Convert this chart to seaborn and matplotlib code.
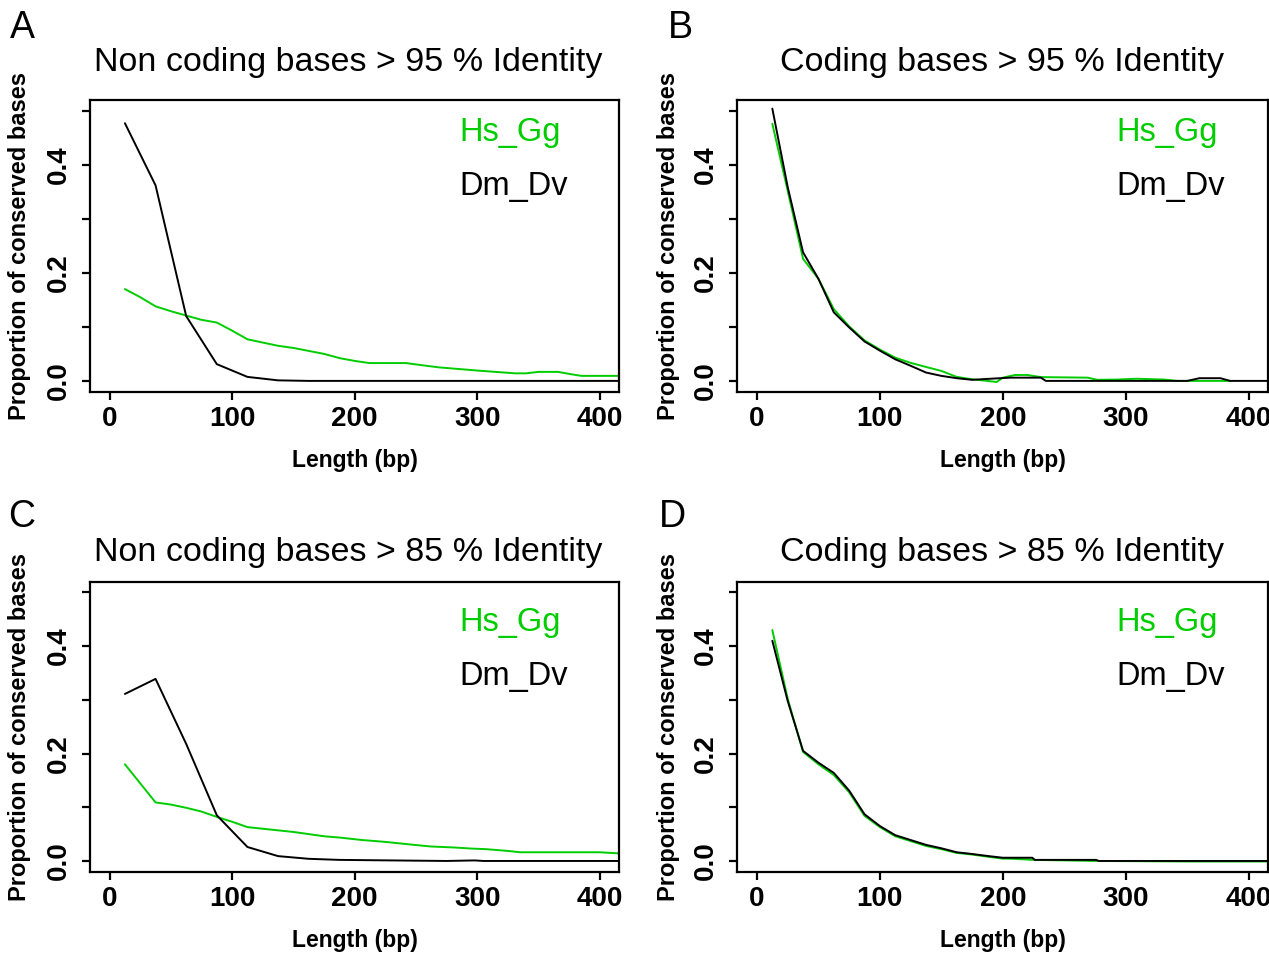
import matplotlib
matplotlib.use("Agg")
import matplotlib.pyplot as plt
import matplotlib.font_manager as fm
import numpy as np
import pandas as pd
import seaborn as sns
from matplotlib.ticker import FixedLocator, FixedFormatter

# ---------------- data ----------------
pairs = ["Hs_Gg", "Dm_Dv"]
titles = ["Non coding bases > 95 % Identity", "Coding bases > 95 % Identity",
          "Non coding bases > 85 % Identity", "Coding bases > 85 % Identity"]
panel_letters = ["A", "B", "C", "D"]

# Panel A
a_dm_len = [12.5, 37.5, 62.5, 87.5, 112.5, 137.5, 162.5, 200, 300, 420]
a_dm = [0.477, 0.362, 0.120, 0.031, 0.0074, 0.001, 0.0, 0.0, 0.0, 0.0]
a_hs_len = [12.5, 25, 37.5, 50, 62.5, 75, 87.5, 100, 112.5, 125, 137.5, 150, 175,
            188, 200, 212, 242, 255, 269, 285, 301, 331, 340, 350, 366, 375, 385, 420]
a_hs = [0.170, 0.155, 0.138, 0.129, 0.121, 0.113, 0.108, 0.093, 0.077, 0.071, 0.065,
        0.061, 0.050, 0.042, 0.037, 0.033, 0.033, 0.029, 0.025, 0.022, 0.019, 0.014,
        0.014, 0.0167, 0.0167, 0.013, 0.0093, 0.0093]

# Panel B
b_dm_len = [12.5, 25, 37.5, 50, 62.5, 75, 87.5, 100, 112.5, 125, 137.5, 150, 162.5,
            175, 190, 206, 231, 235, 350, 360, 377, 385, 420]
b_dm = [0.504, 0.359, 0.238, 0.189, 0.127, 0.099, 0.073, 0.056, 0.040, 0.028, 0.0155,
        0.0093, 0.005, 0.002, 0.004, 0.006, 0.006, 0.0, 0.0, 0.005, 0.005, 0.0, 0.0]
b_hs_len = [12.5, 25, 37.5, 50, 62.5, 75, 87.5, 100, 112.5, 125, 137.5, 150, 162.5,
            175, 187.5, 195, 200, 210, 220, 231, 269, 277, 293, 309, 331, 342, 385]
b_hs = [0.476, 0.352, 0.226, 0.189, 0.133, 0.101, 0.075, 0.058, 0.043, 0.0334, 0.0258,
        0.0185, 0.0074, 0.003, 0.0, -0.002, 0.006, 0.011, 0.011, 0.007, 0.006, 0.002,
        0.0025, 0.004, 0.0025, 0.0, 0.0]

# Panel C
c_dm_len = [12.5, 37.5, 62.5, 87.5, 112.5, 137.5, 162.5, 187.5, 230, 275, 298, 305, 420]
c_dm = [0.311, 0.339, 0.218, 0.085, 0.026, 0.009, 0.004, 0.002, 0.001, 0.0, 0.001, 0.0, 0.0]
c_hs_len = [12.5, 37.5, 50, 62.5, 75, 87.5, 100, 112.5, 125, 137.5, 150, 175, 188, 206,
            225, 244, 262, 282, 296, 307, 325, 335, 400, 414, 420]
c_hs = [0.180, 0.109, 0.105, 0.099, 0.092, 0.082, 0.073, 0.063, 0.060, 0.057, 0.054,
        0.046, 0.0435, 0.039, 0.0355, 0.031, 0.027, 0.025, 0.023, 0.022, 0.0187, 0.0162,
        0.0162, 0.0143, 0.0143]

# Panel D
d_dm_len = [12.5, 25, 37.5, 50, 62.5, 75, 87.5, 100, 112.5, 125, 137.5, 150, 162.5,
            175, 187.5, 200, 224, 226, 276, 278, 420]
d_dm = [0.410, 0.298, 0.205, 0.183, 0.164, 0.131, 0.087, 0.065, 0.048, 0.039, 0.030,
        0.0236, 0.0162, 0.013, 0.0093, 0.006, 0.006, 0.002, 0.002, 0.0, 0.0]
d_hs_len = [12.5, 25, 37.5, 50, 62.5, 75, 87.5, 100, 112.5, 125, 137.5, 150, 162.5,
            175, 187.5, 200, 206, 225, 276, 350, 420]
d_hs = [0.430, 0.302, 0.203, 0.180, 0.160, 0.128, 0.084, 0.063, 0.046, 0.037, 0.028,
        0.022, 0.015, 0.012, 0.008, 0.0043, 0.0043, 0.002, 0.0, -0.001, -0.001]

x_ticks = [0, 100, 200, 300, 400]
y_ticks = [0.0, 0.1, 0.2, 0.3, 0.4, 0.5]
y_ticklabels = ["0.0", "", "0.2", "", "0.4", ""]

GREEN = "#00CD00"

# ---------------- style ----------------
sns.set_style("white")
avail = {f.name for f in fm.fontManager.ttflist}
narrow = "Liberation Sans Narrow" if "Liberation Sans Narrow" in avail else "Liberation Sans"
plt.rcParams["font.family"] = ["Liberation Sans", "DejaVu Sans"]
plt.rcParams["text.color"] = "black"
plt.rcParams["axes.labelcolor"] = "black"
plt.rcParams["xtick.color"] = "black"
plt.rcParams["ytick.color"] = "black"

W, H = 1269, 956
fig = plt.figure(figsize=(W / 100, H / 100), dpi=100)

def frac_box(l, t, r, b):
    return [l / W, 1 - b / H, (r - l) / W, (b - t) / H]

boxes = [frac_box(90, 100, 619.3, 391.7), frac_box(737.3, 100, 1268.3, 391.7),
         frac_box(90, 581.7, 619.3, 871.7), frac_box(737.3, 581.7, 1268.3, 871.7)]

series = [((a_hs_len, a_hs), (a_dm_len, a_dm)),
          ((b_hs_len, b_hs), (b_dm_len, b_dm)),
          ((c_hs_len, c_hs), (c_dm_len, c_dm)),
          ((d_hs_len, d_hs), (d_dm_len, d_dm))]

title_pos = [(348, 63), (1002, 63), (348, 553), (1002, 553)]
letter_pos = [(22, 28), (680, 28), (22, 517), (672, 517)]
legend_x = [459, 1116, 459, 1116]
legend_y = [(133, 187), (133, 187), (622, 676), (622, 676)]
ylabel_x = [20, 668, 20, 668]

for i in range(4):
    ax = fig.add_axes(boxes[i])
    (hx, hy), (dx, dy) = series[i]
    df = pd.concat([
        pd.DataFrame({"length": hx, "prop": hy, "pair": pairs[0]}),
        pd.DataFrame({"length": dx, "prop": dy, "pair": pairs[1]}),
    ], ignore_index=True)
    sns.lineplot(data=df, x="length", y="prop", hue="pair", hue_order=pairs,
                 palette={pairs[0]: GREEN, pairs[1]: "black"}, estimator=None,
                 sort=False, legend=False, lw=1.4, ax=ax)
    ax.set_xlim(-16, 416)
    ax.set_ylim(-0.02, 0.52)
    ax.xaxis.set_major_locator(FixedLocator(x_ticks))
    ax.yaxis.set_major_locator(FixedLocator(y_ticks))
    ax.yaxis.set_major_formatter(FixedFormatter(y_ticklabels))
    ax.set_xticklabels([str(v) for v in x_ticks])
    for s in ax.spines.values():
        s.set_linewidth(1.6)
        s.set_color("black")
    ax.tick_params(axis="both", which="major", direction="out", length=6,
                   width=1.6, color="black", labelcolor="black", bottom=True, left=True)
    ax.tick_params(axis="x", pad=4)
    ax.tick_params(axis="y", pad=7)
    for lab in ax.get_xticklabels():
        lab.set_fontfamily(narrow)
        lab.set_fontweight("bold")
        lab.set_fontsize(20)
    for lab in ax.get_yticklabels():
        lab.set_fontfamily(narrow)
        lab.set_fontweight("bold")
        lab.set_fontsize(20)
        lab.set_rotation(90)
        lab.set_va("center")
    ax.set_xlabel("")
    ax.set_ylabel("")

    # "legend" text
    fig.text(legend_x[i] / W, 1 - legend_y[i][0] / H, pairs[0], color=GREEN,
             fontsize=23.5, ha="left", va="center")
    fig.text(legend_x[i] / W, 1 - legend_y[i][1] / H, pairs[1], color="black",
             fontsize=23.5, ha="left", va="center")

    # titles and labels
    fig.text(title_pos[i][0] / W, 1 - title_pos[i][1] / H, titles[i],
             fontsize=24.5, ha="center", va="center", color="black")
    fig.text(letter_pos[i][0] / W, 1 - letter_pos[i][1] / H, panel_letters[i],
             fontsize=27, ha="center", va="center", color="black")
    cx = (boxes[i][0] + boxes[i][2] / 2)
    ybot = boxes[i][1]
    fig.text(cx, ybot - 69 / H, "Length (bp)", fontsize=16.5, fontweight="bold",
             family=narrow, ha="center", va="center", color="black")
    cy = boxes[i][1] + boxes[i][3] / 2
    fig.text(ylabel_x[i] / W, cy, "Proportion of conserved bases", fontsize=17,
             fontweight="bold", family=narrow, rotation=90, ha="center", va="center",
             color="black")

fig.savefig("out.png", dpi=100, facecolor="white")
